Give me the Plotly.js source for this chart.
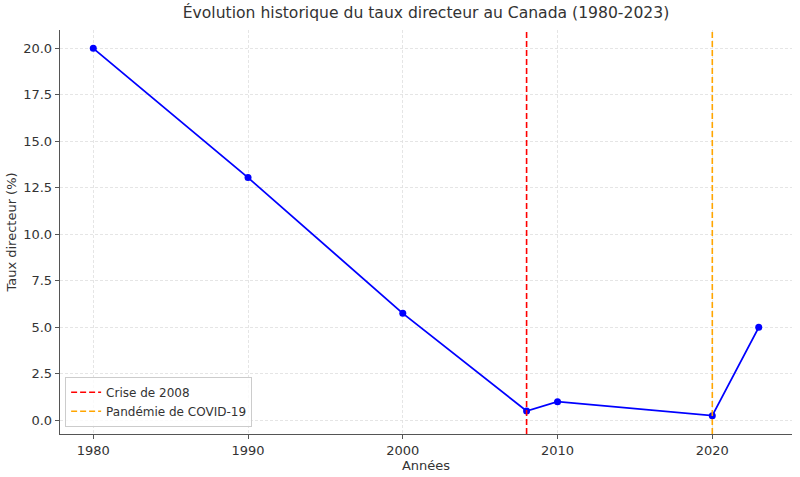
<!DOCTYPE html>
<html>
<head>
<meta charset="utf-8">
<script src="https://cdn.plot.ly/plotly-3.0.1.min.js"></script>
<style>html,body{margin:0;padding:0;background:#fff;}#chart{width:800px;height:477px;}</style>
</head>
<body>
<div id="chart"></div>
<script>
const years = [1980, 1990, 2000, 2008, 2010, 2020, 2023];
const rates = [20.0, 13.05, 5.75, 0.5, 1.0, 0.25, 5.0];
const events = [
  {year: 2008, name: "Crise de 2008", color: "red"},
  {year: 2020, name: "Pandémie de COVID-19", color: "orange"}
];
const xTicks = [1980, 1990, 2000, 2010, 2020];
const yTicks = [0, 2.5, 5, 7.5, 10, 12.5, 15, 17.5, 20];

const font = "DejaVu Sans, sans-serif";
const traces = [{
  x: years, y: rates, type: "scatter", mode: "lines+markers",
  line: {color: "blue", width: 1.8},
  marker: {color: "blue", size: 7},
  showlegend: false, hoverinfo: "x+y"
}];

const shapes = events.map(e => ({
  type: "line", xref: "x", yref: "paper", x0: e.year, x1: e.year, y0: 0, y1: 1,
  line: {color: e.color, width: 1.6, dash: "6px,3px"},
  showlegend: true, name: e.name, layer: "above"
}));

const layout = {
  width: 800, height: 477,
  margin: {l: 60, r: 8, t: 30, b: 43},
  paper_bgcolor: "#fff", plot_bgcolor: "#fff",
  font: {family: font, color: "#333", size: 13},
  title: {text: "Évolution historique du taux directeur au Canada (1980-2023)",
          font: {family: font, size: 15.6, color: "#333"}, xref: "paper", x: 0.5, xanchor: "center", y: 0.985, yanchor: "top"},
  xaxis: {
    range: [1977.85, 2025.15], tickvals: xTicks, ticktext: xTicks.map(String),
    showgrid: true, gridcolor: "#dedede", griddash: "3px,2px", gridwidth: 0.8,
    zeroline: false, showline: true, linecolor: "#555", linewidth: 1.3,
    ticks: "outside", ticklen: 4, tickcolor: "#555",
    title: {text: "Années", font: {size: 13, color: "#333"}, standoff: 1},
    tickfont: {size: 13, color: "#333"}
  },
  yaxis: {
    range: [-0.7375, 20.9875], tickvals: yTicks, ticktext: yTicks.map(v => v.toFixed(1)),
    showgrid: true, gridcolor: "#dedede", griddash: "3px,2px", gridwidth: 0.8,
    zeroline: false, showline: true, linecolor: "#555", linewidth: 1.3,
    ticks: "outside", ticklen: 4, tickcolor: "#555",
    title: {text: "Taux directeur (%)", font: {size: 13, color: "#333"}, standoff: 3},
    tickfont: {size: 13, color: "#333"}
  },
  shapes: shapes,
  showlegend: true,
  legend: {x: 0.007, y: 0.018, xanchor: "left", yanchor: "bottom",
           bgcolor: "rgba(255,255,255,0.8)", bordercolor: "#ccc", borderwidth: 1,
           font: {size: 12, color: "#333"}, tracegroupgap: 0}
};

Plotly.newPlot("chart", traces, layout, {displayModeBar: false, staticPlot: true});
</script>
</body>
</html>
